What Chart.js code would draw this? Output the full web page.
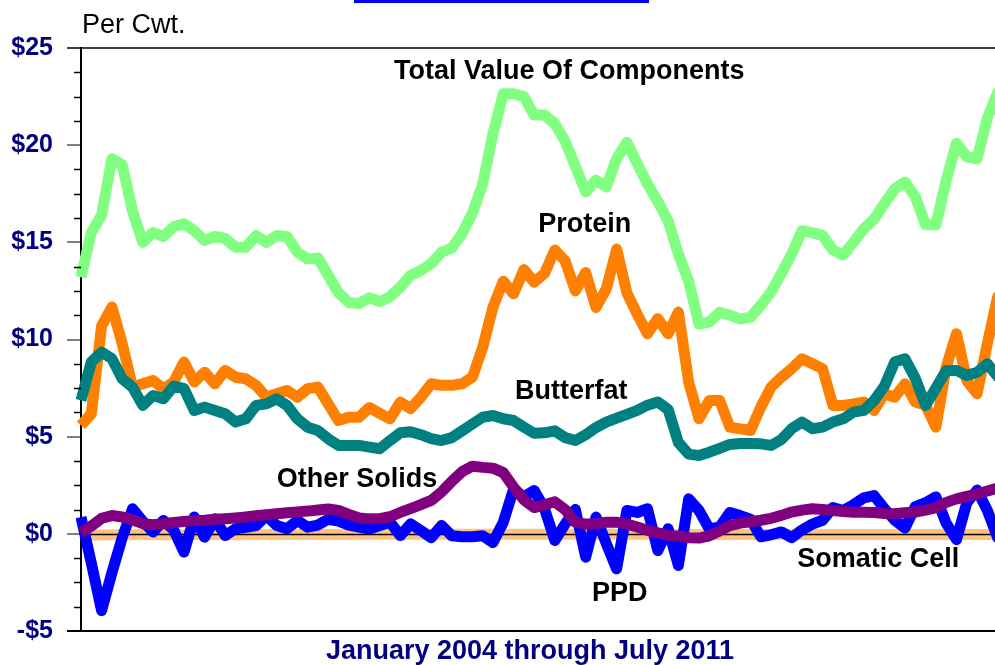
<!DOCTYPE html>
<html><head><meta charset="utf-8">
<style>
html,body{margin:0;padding:0;overflow:hidden;background:#fff;width:995px;height:665px;}
#wrap{position:absolute;left:0;top:0;width:1030px;height:665px;}
#bar{position:absolute;left:354px;top:0;width:295px;height:3px;background:#0000ff;}
</style>
<script src="https://cdn.jsdelivr.net/npm/chart.js@4.4.1/dist/chart.umd.min.js"></script>
</head><body>
<div id="wrap"><canvas id="c" width="1030" height="665"></canvas></div>
<div id="bar"></div>
<script>
// ---- categories: January 2004 through July 2011 ----
const monthNames = ['Jan','Feb','Mar','Apr','May','Jun','Jul','Aug','Sep','Oct','Nov','Dec'];
const years = [2004,2005,2006,2007,2008,2009,2010,2011];
const months = [];
years.forEach(y => monthNames.forEach((m, k) => { if (y < 2011 || k <= 6) months.push(m + ' ' + y); }));

// ---- series values ($ per cwt) ----
const totalValue = [
 13.2, 15.5, 16.4, 19.3, 19.0, 16.6, 15.0, 15.5, 15.3, 15.8,
 15.95, 15.6, 15.1, 15.3, 15.2, 14.75, 14.75, 15.35, 15.0, 15.35,
 15.3, 14.5, 14.15, 14.2, 13.3, 12.4, 11.9, 11.85, 12.15, 11.95,
 12.2, 12.7, 13.3, 13.55, 13.9, 14.5, 14.7, 15.45, 16.5, 18.0,
 20.6, 22.65, 22.65, 22.5, 21.55, 21.55, 21.1, 20.2, 18.9, 17.6,
 18.2, 17.85, 19.3, 20.15, 19.05, 18.0, 17.1, 16.1, 14.4, 13.0,
 10.8, 10.9, 11.4, 11.25, 11.05, 11.15, 11.75, 12.45, 13.4, 14.4,
 15.6, 15.5, 15.35, 14.6, 14.35, 15.0, 15.7, 16.2, 17.0, 17.75,
 18.1, 17.35, 15.9, 15.9, 18.2, 20.1, 19.4, 19.3, 21.4, 22.7,
 23.3];
const protein = [
 5.58, 6.18, 10.7, 11.67, 9.8, 7.55, 7.72, 7.89, 7.47, 7.81,
 8.84, 7.81, 8.32, 7.72, 8.41, 8.06, 7.98, 7.64, 7.03, 7.21,
 7.38, 7.03, 7.47, 7.55, 6.69, 5.83, 6.0, 6.0, 6.5, 6.2,
 5.92, 6.78, 6.44, 7.03, 7.72, 7.64, 7.64, 7.72, 8.06, 9.6,
 11.67, 13.0, 12.35, 13.6, 12.95, 13.4, 14.6, 14.05, 12.5, 13.45,
 11.65, 12.6, 14.65, 12.4, 11.3, 10.3, 11.07, 10.3, 11.41, 7.8,
 5.92, 6.86, 6.86, 5.49, 5.4, 5.32, 6.52, 7.55, 8.06, 8.5,
 9.01, 8.75, 8.5, 6.61, 6.61, 6.69, 6.78, 6.35, 7.21, 7.03,
 7.72, 6.78, 6.61, 5.49, 8.58, 10.3, 7.89, 7.21, 9.8, 12.2,
 12.5];
const butterfat = [
 6.87, 8.84, 9.35, 9.01, 7.98, 7.55, 6.61, 7.12, 6.95, 7.6,
 7.47, 6.35, 6.52, 6.35, 6.18, 5.75, 5.92, 6.61, 6.69, 6.95,
 6.61, 5.92, 5.49, 5.32, 4.89, 4.55, 4.55, 4.55, 4.46, 4.38,
 4.8, 5.2, 5.25, 5.1, 4.9, 4.8, 4.95, 5.3, 5.65, 6.0,
 6.09, 5.92, 5.83, 5.49, 5.17, 5.2, 5.3, 4.95, 4.8, 5.1,
 5.47, 5.75, 5.95, 6.15, 6.35, 6.62, 6.78, 6.4, 4.7, 4.1,
 4.03, 4.2, 4.4, 4.6, 4.65, 4.65, 4.63, 4.55, 4.85, 5.41,
 5.75, 5.41, 5.49, 5.75, 5.92, 6.26, 6.35, 6.86, 7.6, 8.84,
 9.01, 8.0, 6.61, 7.5, 8.41, 8.41, 8.15, 8.32, 8.75, 8.1,
 8.0];
const otherSolids = [
 0.05, 0.4, 0.8, 0.94, 0.87, 0.72, 0.52, 0.47, 0.52, 0.58,
 0.63, 0.68, 0.7, 0.75, 0.78, 0.82, 0.87, 0.93, 0.98, 1.03,
 1.08, 1.13, 1.17, 1.23, 1.28, 1.2, 1.0, 0.82, 0.77, 0.78,
 0.88, 1.1, 1.3, 1.5, 1.72, 2.15, 2.7, 3.2, 3.48, 3.42,
 3.38, 3.15, 2.4, 1.75, 1.35, 1.5, 1.65, 1.25, 0.6, 0.5,
 0.52, 0.6, 0.6, 0.5, 0.35, 0.18, 0.05, -0.08, -0.12, -0.2,
 -0.22, -0.1, 0.15, 0.42, 0.55, 0.62, 0.7, 0.8, 0.95, 1.12,
 1.22, 1.29, 1.25, 1.2, 1.15, 1.11, 1.11, 1.1, 1.05, 1.03,
 1.08, 1.12, 1.22, 1.35, 1.62, 1.8, 1.93, 2.05, 2.2, 2.35,
 2.45];
const ppd = [
 0.86, -1.5, -3.95, -2.0, -0.2, 1.29, 0.65, 0.09, 0.69, 0.2,
 -0.94, 0.86, -0.17, 0.77, -0.09, 0.26, 0.34, 0.43, 0.94, 0.43,
 0.26, 0.69, 0.34, 0.45, 0.75, 0.65, 0.45, 0.35, 0.25, 0.43,
 0.6, -0.09, 0.51, 0.17, -0.2, 0.43, -0.1, -0.15, -0.15, -0.1,
 -0.45, 0.6, 2.3, 1.9, 2.23, 1.3, -0.34, 0.5, 1.25, -1.2,
 0.86, -0.5, -1.8, 1.2, 1.1, 1.29, -0.86, 0.26, -1.63, 1.8,
 1.2, 0.26, 0.34, 1.1, 0.94, 0.75, -0.15, -0.05, 0.1, -0.2,
 0.2, 0.5, 0.7, 1.35, 1.2, 1.5, 1.85, 1.97, 1.3, 0.7,
 0.3, 1.4, 1.6, 1.9, 0.55, -0.3, 1.6, 2.25, 1.2, -0.2,
 0.5];
const somaticCell = [
 -0.05, -0.06, -0.06, -0.05, -0.05, -0.05, -0.04, -0.04, -0.05, -0.05,
 -0.05, -0.04, -0.04, -0.04, -0.05, -0.05, -0.04, -0.04, -0.04, -0.04,
 -0.03, -0.03, -0.03, -0.03, -0.03, -0.03, -0.03, -0.02, -0.02, -0.02,
 -0.02, -0.02, -0.02, -0.02, -0.02, -0.02, -0.02, -0.02, -0.02, -0.02,
 -0.02, -0.02, -0.02, -0.02, -0.02, -0.02, -0.02, -0.02, -0.02, -0.02,
 -0.02, -0.02, -0.02, -0.02, -0.02, -0.02, -0.03, -0.03, -0.03, -0.03,
 -0.03, -0.03, -0.03, -0.03, -0.03, -0.03, -0.03, -0.03, -0.03, -0.03,
 -0.03, -0.03, -0.03, -0.03, -0.03, -0.03, -0.03, -0.03, -0.03, -0.03,
 -0.03, -0.03, -0.03, -0.03, -0.03, -0.03, -0.03, -0.03, -0.03, -0.03,
 -0.03];

// ---- axis ticks ----
const yTickValues = [-5, 0, 5, 10, 15, 20, 25];
const yMinorStep = 1.25;

// ---- text annotations (anchored in data units: month index, $) ----
const seriesLabels = [
  { text: 'Total Value Of Components', at: [47.4, 23.8] },
  { text: 'Protein', at: [48.9, 15.9] },
  { text: 'Butterfat', at: [47.6, 7.3] },
  { text: 'Other Solids', at: [26.8, 2.8] },
  { text: 'PPD', at: [52.3, -3.05] },
  { text: 'Somatic Cell', at: [77.4, -1.3] }
];
const unitLabel = 'Per Cwt.';
const xTitle = 'January 2004 through July 2011';

const FONT = '"Liberation Sans", Arial, Helvetica, sans-serif';
const base = { borderWidth: 11, pointRadius: 0, tension: 0, fill: false, borderJoinStyle: 'round', borderCapStyle: 'butt' };

const decorPlugin = {
  id: 'decor',
  afterDatasetDraw(chart, args) {
    if (args.index !== 2) return; // after Somatic Cell: draw zero line
    const { ctx, chartArea: a, scales: { y } } = chart;
    const y0 = Math.round(y.getPixelForValue(0)) + 0.5;
    ctx.save();
    ctx.strokeStyle = '#000'; ctx.lineWidth = 1.5;
    ctx.beginPath(); ctx.moveTo(a.left, y0); ctx.lineTo(a.right, y0); ctx.stroke();
    ctx.restore();
  },
  afterDraw(chart) {
    const { ctx, chartArea: a, scales: { x, y } } = chart;
    ctx.save();
    // minor ticks
    ctx.strokeStyle = '#000'; ctx.lineWidth = 1.5;
    for (let v = y.min; v <= y.max + 1e-9; v += yMinorStep) {
      if (yTickValues.includes(v)) continue;
      const py = Math.round(y.getPixelForValue(v)) + 0.5;
      ctx.beginPath(); ctx.moveTo(a.left - 7, py); ctx.lineTo(a.left, py); ctx.stroke();
    }
    // series labels
    ctx.fillStyle = '#000';
    ctx.font = 'bold 27px ' + FONT;
    ctx.textAlign = 'center'; ctx.textBaseline = 'middle';
    seriesLabels.forEach(l => ctx.fillText(l.text, x.getPixelForValue(l.at[0]), y.getPixelForValue(l.at[1])));
    // unit label
    ctx.font = '27px ' + FONT; ctx.textAlign = 'left';
    ctx.fillText(unitLabel, a.left + 1, a.top - 22);
    // x-axis title
    ctx.fillStyle = '#000080';
    ctx.font = 'bold 27px ' + FONT; ctx.textAlign = 'center';
    ctx.fillText(xTitle, a.left + 449, a.bottom + 21);
    ctx.restore();
  }
};

new Chart(document.getElementById('c'), {
  type: 'line',
  data: {
    labels: months,
    datasets: [
      { label: 'Other Solids', data: otherSolids, borderColor: '#800080' },
      { label: 'PPD', data: ppd, borderColor: '#0000FF' },
      { label: 'Somatic Cell', data: somaticCell, borderColor: '#FFC27F' },
      { label: 'Butterfat', data: butterfat, borderColor: '#008080' },
      { label: 'Protein', data: protein, borderColor: '#FF8000' },
      { label: 'Total Value Of Components', data: totalValue, borderColor: '#80FF80' }
    ].map(d => Object.assign({}, base, d))
  },
  options: {
    responsive: false, animation: false, devicePixelRatio: 1,
    layout: { padding: { top: 48, right: 22, left: 0, bottom: 0 } },
    plugins: { legend: { display: false }, tooltip: { enabled: false }, title: { display: false } },
    scales: {
      x: {
        type: 'category', offset: false,
        grid: { display: false }, border: { display: false },
        ticks: { display: false },
        afterFit(s) { s.height = 34; }
      },
      y: {
        min: -5, max: 25,
        afterBuildTicks(s) { s.ticks = yTickValues.map(v => ({ value: v })); },
        ticks: {
          color: '#000080', padding: 14,
          font: { family: FONT, size: 25, weight: 'bold' },
          callback: v => v < 0 ? '-$' + (-v) : '$' + v
        },
        grid: {
          drawOnChartArea: true, drawTicks: true, tickLength: 14, lineWidth: 2, tickWidth: 2,
          color: c => c.tick && c.tick.value === 25 ? '#404040' : (c.tick && c.tick.value === -5 ? '#000' : 'rgba(0,0,0,0)'),
          tickColor: c => c.tick && c.tick.value === 25 ? '#404040' : (c.tick && c.tick.value === -5 ? '#000' : '#808080')
        },
        border: { display: true, color: '#000', width: 2 },
        afterFit(s) { s.width = 81; }
      }
    }
  },
  plugins: [decorPlugin]
});
</script>
</body></html>
